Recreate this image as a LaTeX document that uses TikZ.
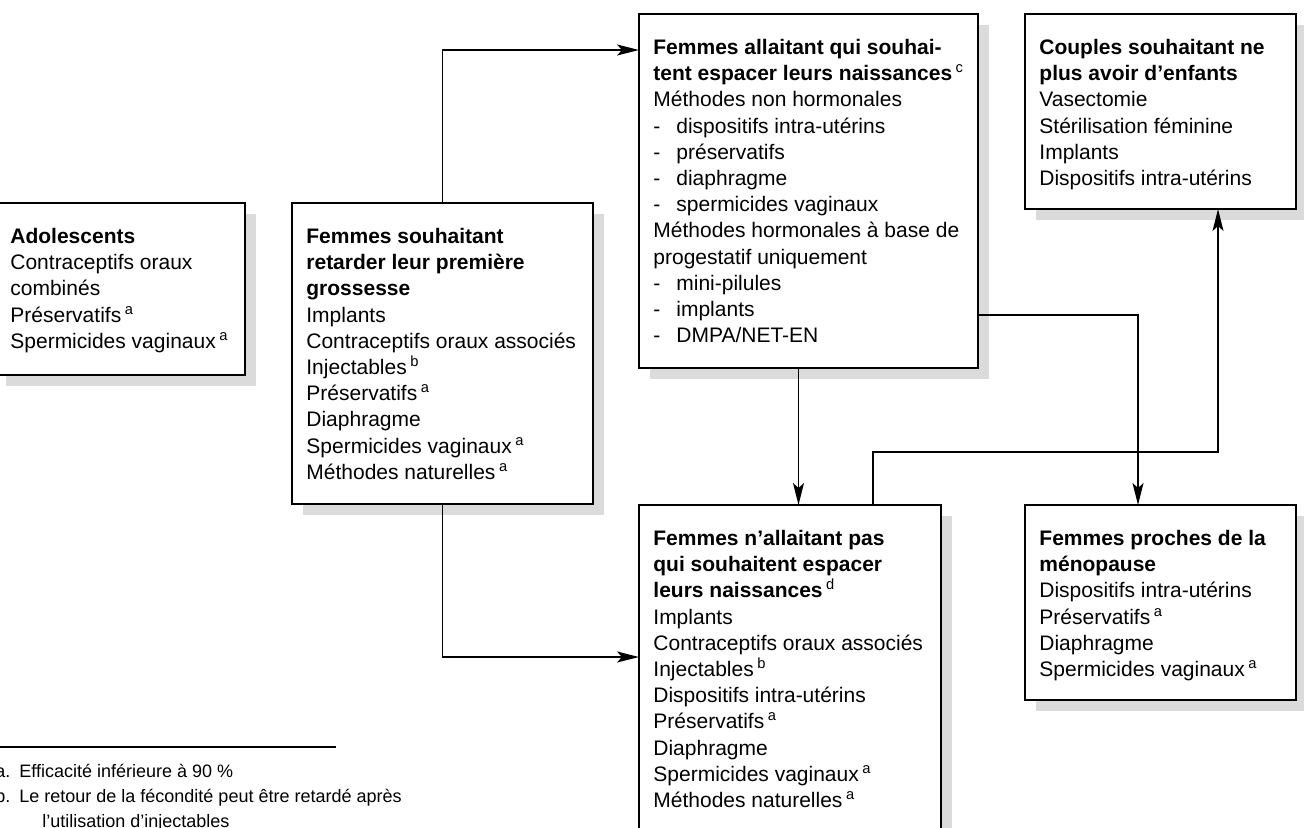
\documentclass[tikz,border=0pt]{standalone}
\usepackage{fontspec}
\setmainfont{Liberation Sans}
\usetikzlibrary{arrows.meta,shadows}
\newcommand\fnm[1]{\,\textsuperscript{#1}}
\newcommand\tiret{\makebox[11.5pt][l]{-}}
\newcommand\notelabel[1]{\makebox[12pt][l]{#1}}
\tikzset{
  methbox/.style={draw=black,line width=1pt,fill=white,anchor=north west,
    inner sep=0pt,outer sep=0pt,
    drop shadow={shadow xshift=5.5pt,shadow yshift=-5.5pt,fill=black!14,opacity=1}},
  methtext/.style={anchor=north west,inner sep=0pt,align=left,
    font=\fontsize{10.5pt}{13.1pt}\selectfont},
  notetext/.style={anchor=north west,inner sep=0pt,align=left,
    font=\fontsize{9pt}{12.5pt}\selectfont},
  conn/.style={line width=0.75pt,-{Stealth[length=11pt,width=5.5pt,inset=2.5pt]}}
}
\begin{document}
\begin{tikzpicture}[x=0.5pt,y=-0.5pt]
\useasboundingbox (0,0) rectangle (1304,827);
% boxes
\node[methbox,minimum width=125pt,minimum height=86pt] (ado) at (-5,203) {};
\node[methbox,minimum width=150.5pt,minimum height=150.5pt] (retard) at (292,203) {};
\node[methbox,minimum width=169.5pt,minimum height=177pt] (allait) at (639,14) {};
\node[methbox,minimum width=135.5pt,minimum height=97.5pt] (couples) at (1025,14) {};
\node[methbox,minimum width=151pt,minimum height=180pt] (nonallait) at (639,505) {};
\node[methbox,minimum width=135.5pt,minimum height=97.5pt] (menop) at (1025,505) {};
% texts
\node[methtext,xshift=7.5pt,yshift=-12.4pt] (adotxt) at (ado.north west)
 {\textbf{Adolescents}\\Contraceptifs oraux\\combinés\\Préservatifs\fnm{a}\\Spermicides vaginaux\fnm{a}};
\node[methtext,xshift=7pt,yshift=-12.4pt] (retardtxt) at (retard.north west)
 {\textbf{Femmes souhaitant}\\\textbf{retarder leur première}\\\textbf{grossesse}\\Implants\\
  Contraceptifs oraux associés\\Injectables\fnm{b}\\Préservatifs\fnm{a}\\Diaphragme\\
  Spermicides vaginaux\fnm{a}\\Méthodes naturelles\fnm{a}};
\node[methtext,xshift=7pt,yshift=-12.4pt] (allaittxt) at (allait.north west)
 {\textbf{Femmes allaitant qui souhai-}\\\textbf{tent espacer leurs naissances}\fnm{c}\\
  Méthodes non hormonales\\\tiret dispositifs intra-utérins\\\tiret préservatifs\\
  \tiret diaphragme\\\tiret spermicides vaginaux\\Méthodes hormonales à base de\\
  progestatif uniquement\\\tiret mini-pilules\\\tiret implants\\\tiret DMPA/NET-EN};
\node[methtext,xshift=7pt,yshift=-12.4pt] (couplestxt) at (couples.north west)
 {\textbf{Couples souhaitant ne}\\\textbf{plus avoir d’enfants}\\Vasectomie\\
  Stérilisation féminine\\Implants\\Dispositifs intra-utérins};
\node[methtext,xshift=7pt,yshift=-12.4pt] (nonallaittxt) at (nonallait.north west)
 {\textbf{Femmes n’allaitant pas}\\\textbf{qui souhaitent espacer}\\\textbf{leurs naissances}\fnm{d}\\
  Implants\\Contraceptifs oraux associés\\Injectables\fnm{b}\\Dispositifs intra-utérins\\
  Préservatifs\fnm{a}\\Diaphragme\\Spermicides vaginaux\fnm{a}\\Méthodes naturelles\fnm{a}};
\node[methtext,xshift=7pt,yshift=-12.4pt] (menoptxt) at (menop.north west)
 {\textbf{Femmes proches de la}\\\textbf{ménopause}\\Dispositifs intra-utérins\\
  Préservatifs\fnm{a}\\Diaphragme\\Spermicides vaginaux\fnm{a}};
% connectors
\draw[conn] (retard.north) |- ([yshift=-18pt]allait.north west);
\draw[conn] (retard.south) |- ([yshift=-76pt]nonallait.north west);
\draw[conn] ([xshift=-5pt]allait.south) -- ([xshift=-5pt]allait.south |- nonallait.north);
\draw[conn] ([yshift=-62pt]allait.east) -| ([xshift=-11.25pt]menop.north);
\draw[conn] ([xshift=-34pt]nonallait.north east) -- ++(0,-53) -| ([xshift=28.75pt]couples.south);
% notes
\coordinate (rulestart) at (0,747);
\coordinate (ruleend) at (336,747);
\draw[line width=0.8pt] (rulestart) -- (ruleend);
\node[notetext] (notes) at (-5,764)
 {\notelabel{a.}Efficacité inférieure à 90~\%\\
  \notelabel{b.}Le retour de la fécondité peut être retardé après\\
  \hspace*{23.5pt}l’utilisation d’injectables};
\end{tikzpicture}
\end{document}
